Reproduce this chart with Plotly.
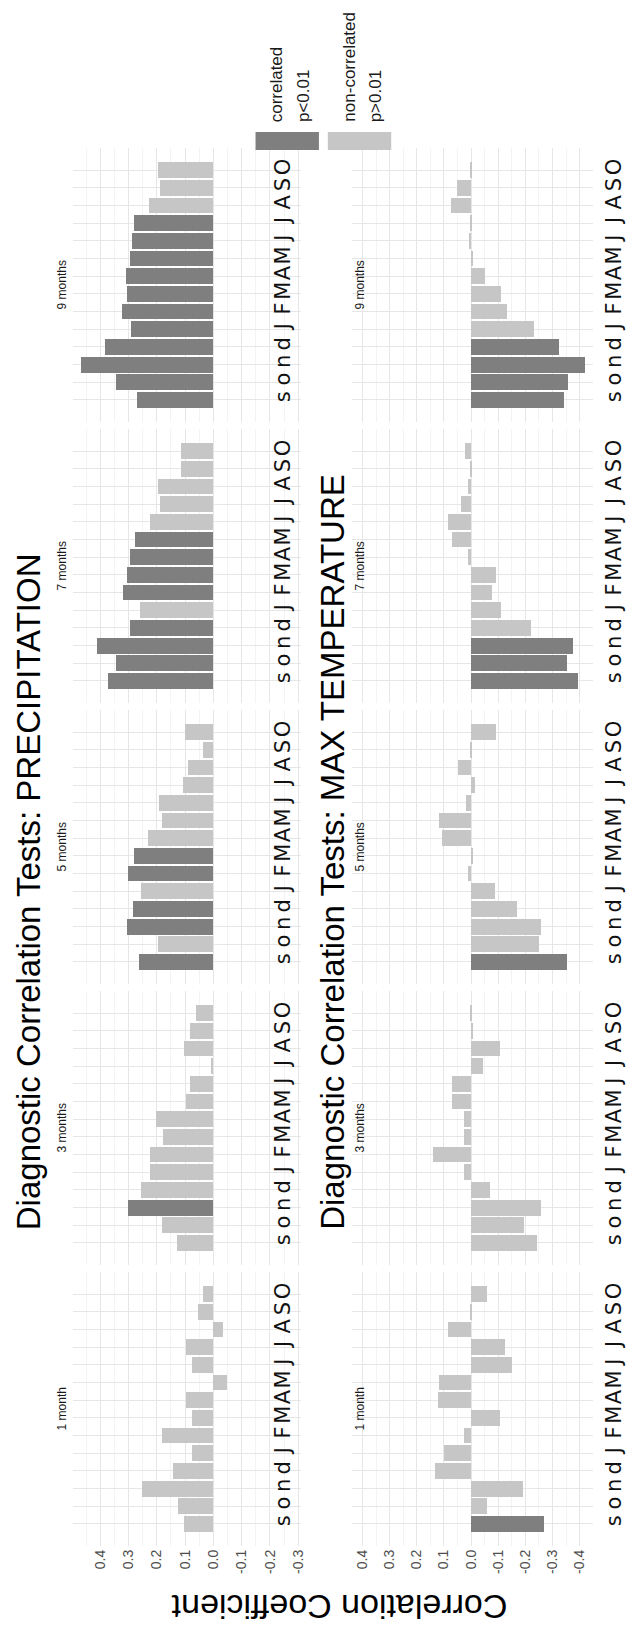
import plotly.graph_objects as go

# ---------------- data ----------------
MONTHS = ["s", "o", "n", "d", "J", "F", "M", "A", "M", "J", "J", "A", "S", "O"]
WINDOWS = ["9 months", "7 months", "5 months", "3 months", "1 month"]

PRECIP_9M = [0.268, 0.344, 0.467, 0.381, 0.289, 0.321, 0.304, 0.306, 0.295, 0.286, 0.279, 0.226, 0.188, 0.195]
PRECIP_9M_SIG = [1, 1, 1, 1, 1, 1, 1, 1, 1, 1, 1, 0, 0, 0]
PRECIP_7M = [0.372, 0.342, 0.410, 0.292, 0.257, 0.317, 0.303, 0.293, 0.275, 0.224, 0.187, 0.194, 0.112, 0.112]
PRECIP_7M_SIG = [1, 1, 1, 1, 0, 1, 1, 1, 1, 0, 0, 0, 0, 0]
PRECIP_5M = [0.261, 0.196, 0.304, 0.282, 0.254, 0.300, 0.280, 0.230, 0.181, 0.191, 0.108, 0.087, 0.035, 0.098]
PRECIP_5M_SIG = [1, 0, 1, 1, 0, 1, 1, 0, 0, 0, 0, 0, 0, 0]
PRECIP_3M = [0.126, 0.182, 0.300, 0.255, 0.224, 0.224, 0.177, 0.200, 0.097, 0.080, 0.008, 0.104, 0.080, 0.059]
PRECIP_3M_SIG = [0, 0, 1, 0, 0, 0, 0, 0, 0, 0, 0, 0, 0, 0]
PRECIP_1M = [0.102, 0.123, 0.251, 0.143, 0.076, 0.179, 0.076, 0.096, -0.049, 0.076, 0.096, -0.035, 0.053, 0.035]
PRECIP_1M_SIG = [0, 0, 0, 0, 0, 0, 0, 0, 0, 0, 0, 0, 0, 0]

TEMP_9M = [-0.342, -0.355, -0.419, -0.323, -0.231, -0.130, -0.109, -0.051, -0.003, 0.008, 0.006, 0.077, 0.052, 0.002]
TEMP_9M_SIG = [1, 1, 1, 1, 0, 0, 0, 0, 0, 0, 0, 0, 0, 0]
TEMP_7M = [-0.394, -0.353, -0.375, -0.221, -0.109, -0.074, -0.092, 0.012, 0.070, 0.087, 0.039, 0.012, 0.004, 0.025]
TEMP_7M_SIG = [1, 1, 1, 0, 0, 0, 0, 0, 0, 0, 0, 0, 0, 0]
TEMP_5M = [-0.352, -0.249, -0.256, -0.166, -0.086, 0.012, -0.007, 0.109, 0.119, 0.020, -0.012, 0.051, 0.002, -0.092]
TEMP_5M_SIG = [1, 0, 0, 0, 0, 0, 0, 0, 0, 0, 0, 0, 0, 0]
TEMP_3M = [-0.243, -0.193, -0.257, -0.070, 0.028, 0.143, 0.028, 0.028, 0.070, 0.070, -0.041, -0.105, -0.003, 0.003]
TEMP_3M_SIG = [0, 0, 0, 0, 0, 0, 0, 0, 0, 0, 0, 0, 0, 0]
TEMP_1M = [-0.267, -0.058, -0.190, 0.136, 0.103, 0.028, -0.104, 0.125, 0.119, -0.150, -0.125, 0.087, 0.002, -0.057]
TEMP_1M_SIG = [1, 0, 0, 0, 0, 0, 0, 0, 0, 0, 0, 0, 0, 0]

PRECIP_TICKS = [0.4, 0.3, 0.2, 0.1, 0.0, -0.1, -0.2, -0.3]
TEMP_TICKS = [0.4, 0.3, 0.2, 0.1, 0.0, -0.1, -0.2, -0.3, -0.4]

TITLE_PRECIP = "Diagnostic Correlation Tests: PRECIPITATION"
TITLE_TEMP = "Diagnostic Correlation Tests: MAX TEMPERATURE"
AXIS_TITLE = "Correlation Coefficient"
LEGEND_LABELS = [["correlated", "p<0.01"], ["non-correlated", "p>0.01"]]

# ---------------- style ----------------
W, H = 626, 1627
DARK = "#7f7f7f"
LIGHT = "#c6c6c6"
GRID = "#e6e6e6"
GRID_MINOR = "#f3f3f3"
SANS = "Liberation Sans, Arial, sans-serif"

precip_vals = [PRECIP_9M, PRECIP_7M, PRECIP_5M, PRECIP_3M, PRECIP_1M]
precip_sig = [PRECIP_9M_SIG, PRECIP_7M_SIG, PRECIP_5M_SIG, PRECIP_3M_SIG, PRECIP_1M_SIG]
temp_vals = [TEMP_9M, TEMP_7M, TEMP_5M, TEMP_3M, TEMP_1M]
temp_sig = [TEMP_9M_SIG, TEMP_7M_SIG, TEMP_5M_SIG, TEMP_3M_SIG, TEMP_1M_SIG]


def px_x(v):
    return v / W


def px_y(v):
    return 1 - v / H


columns = [
    dict(vals=precip_vals, sig=precip_sig, dom=(74, 304), rng=[0.495, -0.31],
         ticks=PRECIP_TICKS, minor=[-0.25, -0.15, -0.05, 0.05, 0.15, 0.25, 0.35, 0.45],
         label_pos=271, strip_x=63),
    dict(vals=temp_vals, sig=temp_sig, dom=(355, 599), rng=[0.44, -0.45],
         ticks=TEMP_TICKS, minor=[-0.45, -0.35, -0.25, -0.15, -0.05, 0.05, 0.15, 0.25, 0.35],
         label_pos=605, strip_x=363),
]

fig = go.Figure()
layout = dict(
    width=W, height=H, margin=dict(l=0, r=0, t=0, b=0),
    paper_bgcolor="white", plot_bgcolor="white", showlegend=False,
    bargap=0, font=dict(family=SANS, color="#1a1a1a"),
)
annotations = []
ypos = list(range(len(MONTHS)))

idx = 0
for c, col in enumerate(columns):
    for k in range(5):
        idx += 1
        top = 148 + 281 * k
        bot = 422 + 281 * k
        vals = col["vals"][k]
        colors = [DARK if s else LIGHT for s in col["sig"][k]]
        fig.add_trace(go.Bar(
            x=vals, y=ypos, orientation="h", width=0.9,
            marker=dict(color=colors, line=dict(width=0)),
            xaxis=f"x{idx}", yaxis=f"y{idx}", hoverinfo="skip",
        ))
        last = (k == 4)
        layout[f"xaxis{idx}"] = dict(
            domain=[px_x(col["dom"][0]), px_x(col["dom"][1])],
            range=col["rng"], anchor=f"y{idx}",
            tickmode="array", tickvals=col["ticks"],
            ticktext=[f"{v:.1f}" for v in col["ticks"]],
            showticklabels=last, tickangle=-90, ticks="",
            tickfont=dict(family=SANS, size=14, color="#4d4d4d"),
            showgrid=True, gridcolor=GRID, gridwidth=1,
            minor=dict(tickmode="array", tickvals=col["minor"], showgrid=True,
                       gridcolor=GRID_MINOR, gridwidth=1, ticks=""),
            zeroline=False, showline=False, fixedrange=True,
        )
        layout[f"yaxis{idx}"] = dict(
            domain=[px_y(bot), px_y(top)],
            range=[-1.25, len(MONTHS) - 1 + 1.25],
            anchor="free", position=px_x(col["label_pos"]), side="right",
            tickmode="array", tickvals=ypos, ticktext=MONTHS,
            tickangle=-90, ticks="",
            tickfont=dict(family="DejaVu Sans", size=21, color="#111111"),
            showgrid=True, gridcolor=GRID, gridwidth=1,
            zeroline=False, showline=False, fixedrange=True,
        )
        annotations.append(dict(
            text=WINDOWS[k], xref="paper", yref="paper",
            x=px_x(col["strip_x"]), y=px_y((top + bot) / 2),
            xanchor="center", yanchor="middle", textangle=-90, showarrow=False,
            font=dict(family=SANS, size=12, color="#1a1a1a"),
        ))

# titles
for text, xc in [(TITLE_PRECIP, 29), (TITLE_TEMP, 335)]:
    annotations.append(dict(
        text=text, xref="paper", yref="paper", x=px_x(xc), y=px_y(1232),
        xanchor="center", yanchor="bottom", textangle=-90, showarrow=False,
        font=dict(family=SANS, size=33, color="#000000"),
    ))

annotations.append(dict(
    text=AXIS_TITLE, xref="paper", yref="paper", x=px_x(343), y=px_y(1607),
    xanchor="center", yanchor="middle", textangle=180, showarrow=False,
    font=dict(family=SANS, size=34, color="#000000"),
))

# legend
shapes = []
for (lines, box_left, color) in [(LEGEND_LABELS[0], 258, DARK), (LEGEND_LABELS[1], 331, LIGHT)]:
    shapes.append(dict(type="rect", xref="paper", yref="paper",
                       x0=px_x(box_left), x1=px_x(box_left + 64),
                       y0=px_y(150), y1=px_y(132),
                       fillcolor=color, line=dict(width=0)))
    for j, line in enumerate(lines):
        annotations.append(dict(
            text=line, xref="paper", yref="paper",
            x=px_x(box_left + 21 + 27 * j), y=px_y(124),
            xanchor="center", yanchor="bottom", textangle=-90, showarrow=False,
            font=dict(family=SANS, size=17, color="#1a1a1a"),
        ))

layout["annotations"] = annotations
layout["shapes"] = shapes
fig.update_layout(**layout)
fig.write_html("out.html")
